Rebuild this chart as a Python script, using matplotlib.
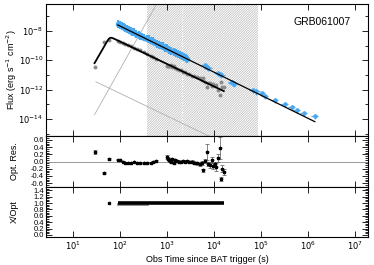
"""Light curve of GRB061007: flux, optical residuals and X/Opt ratio"""

import numpy as np
import matplotlib
matplotlib.use("Agg")
import matplotlib.pyplot as plt
from matplotlib.ticker import MultipleLocator, FixedLocator, NullFormatter

plt.rcParams['font.family'] = ['Liberation Sans', 'DejaVu Sans']
plt.rcParams['axes.unicode_minus'] = False
plt.rcParams['hatch.linewidth'] = 0.45

# X-ray points (s, erg/s/cm2)
xrt_t = [90, 100, 110, 120, 130, 140, 155, 170, 185, 200, 225, 250, 275, 300, 335,
         370, 410, 450, 500, 550, 610, 680, 750, 820, 910, 1000, 1120, 1250, 1400,
         1550, 1720, 1900, 2100, 2300, 2500, 2700,
         6500, 7100, 7700, 12500, 13400, 14500, 24000, 25000, 27000, 67000, 80000,
         105000, 122000, 200000, 320000, 460000, 590000, 820000, 1400000]
xrt_f = [3.0e-8, 2.5e-8, 2.1e-8, 1.8e-8, 1.6e-8, 1.4e-8, 1.15e-8, 1.0e-8, 8.5e-9, 7.8e-9,
         6.2e-9, 5.4e-9, 4.6e-9, 4.1e-9, 3.5e-9, 3.0e-9, 2.6e-9, 2.2e-9, 1.9e-9, 1.6e-9,
         1.35e-9, 1.15e-9, 1.0e-9, 8.6e-10, 7.2e-10, 6.3e-10, 5.2e-10, 4.3e-10, 3.6e-10,
         3.0e-10, 2.5e-10, 2.2e-10, 1.9e-10, 1.6e-10, 1.4e-10, 1.2e-10,
         4.5e-11, 3.5e-11, 3.0e-11, 1.4e-11, 1.2e-11, 1.0e-11, 3.3e-12, 2.9e-12, 2.5e-12,
         9.8e-13, 7.5e-13, 6.0e-13, 3.8e-13, 2.0e-13, 1.07e-13, 6.7e-14, 4.2e-14,
         2.6e-14, 1.65e-14]

# X-ray power law fit
xrt_fit_t = [90.6, 1.41e6]
xrt_fit_f = [2.57e-8, 6.5e-15]

# optical model: smoothly broken power law
opt_tb, opt_fb = 61.0, 4.1e-9
opt_a1, opt_a2, opt_s = 5.6, -1.53, 3.0
opt_tmin, opt_tmax = 29.0, 16300.0

# thin grey component lines
comp1_t, comp1_f = [29, 900], [1.95e-14, 6.5e-6]
comp2_t, comp2_f = [31, 9000], [3.4e-12, 5.5e-16]

# optical residuals
res_t = [29, 46, 58, 90, 100, 115, 130, 150, 170, 200, 230, 270, 320, 380, 450, 520, 600,
         1000, 1050, 1100, 1150, 1200, 1300, 1400, 1500, 1650, 1800, 2000, 2200, 2400,
         2700, 3000, 3400, 3800, 4300, 5000, 5500, 5900, 6500, 7100, 7700, 8200, 9000,
         9600, 10400, 11200, 12200, 13400, 14100, 15000, 16300]
res_v = [0.26, -0.32, 0.07, 0.05, 0.03, 0.0, -0.03, -0.04, -0.03, -0.02, -0.03, -0.05,
         -0.05, -0.04, -0.03, -0.02, 0.01,
         0.12, 0.08, 0.05, 0.02, -0.02, 0.06, -0.05, 0.03, 0.01, 0.0, -0.02, 0.02, 0.0,
         0.01, -0.01, 0.0, -0.03, -0.05, -0.08, -0.04, -0.24, 0.02, 0.26, -0.06, -0.1,
         0.05, -0.12, -0.08, -0.15, 0.1, 0.37, -0.49, -0.2, -0.3]
res_e = [0.05, 0.02, 0.02, 0.02, 0.02, 0.02, 0.02, 0.02, 0.02, 0.02, 0.02, 0.02, 0.02,
         0.02, 0.02, 0.02, 0.02,
         0.05, 0.04, 0.04, 0.03, 0.03, 0.04, 0.03, 0.03, 0.03, 0.03, 0.03, 0.03, 0.03,
         0.03, 0.03, 0.03, 0.04, 0.05, 0.05, 0.05, 0.04, 0.06, 0.22, 0.06, 0.08, 0.08,
         0.08, 0.08, 0.1, 0.12, 0.3, 0.06, 0.1, 0.08]

# X/Opt ratio
ratio_t = [58, 90, 16300]
ratio_v = [1.0, 1.0, 1.0]
ratio_grey_t = [90, 370]
ratio_grey_v = [0.97, 0.97]

# hatched window
hatch_t = [370, 87000]
hatch_mid = 2100

grb_name = 'GRB061007'


def opt_model(t):
    x = np.asarray(t, dtype=float) / opt_tb
    return opt_fb * (x ** (-opt_a1 * opt_s) + x ** (-opt_a2 * opt_s)) ** (-1.0 / opt_s)


fig = plt.figure(figsize=(3.74, 2.65), dpi=100)
ax1 = fig.add_axes([0.123, 0.487, 0.861, 0.498])
ax2 = fig.add_axes([0.123, 0.294, 0.861, 0.193])
ax3 = fig.add_axes([0.123, 0.106, 0.861, 0.188])

blue = '#4aa8f0'

# top panel
ax1.axvspan(hatch_t[0], hatch_t[1], facecolor='none', edgecolor='#b4b4b4',
            hatch='/' * 14, lw=0, zorder=0)
ax1.axvline(hatch_mid, color='white', lw=0.9, ls=':', zorder=0.5)
ax1.plot(comp1_t, comp1_f, color='#b0b0b0', lw=0.6)
ax1.plot(comp2_t, comp2_f, color='#b0b0b0', lw=0.6)

xrt_t_arr = np.array(xrt_t)
xrt_f_arr = np.array(xrt_f)
dense = xrt_t_arr < 3000
ax1.errorbar(xrt_t_arr[dense], xrt_f_arr[dense], xerr=0.1 * xrt_t_arr[dense],
             yerr=[0.45 * xrt_f_arr[dense], 0.9 * xrt_f_arr[dense]],
             fmt='o', ms=3, color=blue, ecolor=blue, elinewidth=1.6, capsize=0,
             zorder=2)
ax1.errorbar(xrt_t_arr[~dense], xrt_f_arr[~dense], xerr=0.18 * xrt_t_arr[~dense],
             yerr=0.4 * xrt_f_arr[~dense],
             fmt='o', ms=2.2, color=blue, ecolor=blue, elinewidth=0.9, capsize=0,
             zorder=2)
ax1.plot(xrt_fit_t, xrt_fit_f, color='black', lw=0.9, zorder=3)

tm = np.logspace(np.log10(opt_tmin), np.log10(opt_tmax), 300)
opt_t = np.array(res_t)
opt_f = opt_model(opt_t) * 10 ** (-np.array(res_v))
ax1.plot(opt_t, opt_f, 'o', ms=1.8, color='#8a8a8a', zorder=2)
ax1.plot(tm, opt_model(tm), color='black', lw=1.3, zorder=3)

ax1.text(0.945, 0.86, grb_name, transform=ax1.transAxes, ha='right', va='center',
         fontsize=7.5)

ax1.set_yscale('log')
ax1.set_ylim(10 ** -15.16, 10 ** -6.16)
ax1.set_yticks([1e-8, 1e-10, 1e-12, 1e-14])
ax1.set_yticklabels(['$10^{-8}$', '$10^{-10}$', '$10^{-12}$', '$10^{-14}$'])
ax1.yaxis.set_minor_locator(FixedLocator([1e-7, 1e-9, 1e-11, 1e-13, 1e-15]))
ax1.yaxis.set_minor_formatter(NullFormatter())
ax1.set_ylabel('Flux (erg s$^{-1}$ cm$^{-2}$)', fontsize=6.5, labelpad=3)

# middle panel
ax2.axhline(0, color='#999999', lw=0.7)
ax2.errorbar(res_t, res_v, yerr=res_e, fmt='*', ms=2.4, color='black',
             ecolor='#555555', elinewidth=0.5, capsize=1.2, capthick=0.5)
ax2.set_ylim(-0.71, 0.71)
ax2.yaxis.set_major_locator(FixedLocator([-0.6, -0.4, -0.2, 0.0, 0.2, 0.4, 0.6]))
ax2.yaxis.set_major_formatter(plt.FormatStrFormatter('%.1f'))
ax2.yaxis.set_minor_locator(MultipleLocator(0.05))
ax2.set_ylabel('Opt. Res.', fontsize=6.5, labelpad=3)

# bottom panel
ax3.plot(ratio_grey_t, ratio_grey_v, color='#888888', lw=2.0)
ax3.plot(ratio_t[1:], ratio_v[1:], color='black', lw=2.6, solid_capstyle='butt')
ax3.plot(ratio_t[:1], ratio_v[:1], 's', ms=1.5, color='black')
ax3.set_ylim(-0.06, 1.5)
ax3.yaxis.set_major_locator(FixedLocator([0.0, 0.2, 0.4, 0.6, 0.8, 1.0, 1.2, 1.4]))
ax3.yaxis.set_major_formatter(plt.FormatStrFormatter('%.1f'))
ax3.yaxis.set_minor_locator(MultipleLocator(0.05))
ax3.set_ylabel('X/Opt', fontsize=6.5, labelpad=3)
ax3.set_xlabel('Obs Time since BAT trigger (s)', fontsize=6.5, labelpad=2)

for ax in (ax1, ax2, ax3):
    ax.set_xscale('log')
    ax.set_xlim(10 ** 0.43, 10 ** 7.28)
    ax.set_xticks([1e1, 1e2, 1e3, 1e4, 1e5, 1e6, 1e7])
    ax.xaxis.set_minor_locator(FixedLocator([]))
    ax.tick_params(which='both', direction='in', top=True, right=True,
                   labelsize=6, width=0.6, pad=2)
    ax.tick_params(which='major', length=4)
    ax.tick_params(which='minor', length=2.5)
    for sp in ax.spines.values():
        sp.set_linewidth(0.8)
    ax.yaxis.set_label_coords(-0.085, 0.5)

for ax in (ax2, ax3):
    ax.tick_params(axis='y', labelsize=5.5, pad=1.5)

for ax in (ax1, ax2):
    ax.tick_params(labelbottom=False)
ax3.set_xticklabels(['$10^{%d}$' % k for k in range(1, 8)])

fig.savefig('out.png', dpi=100)
